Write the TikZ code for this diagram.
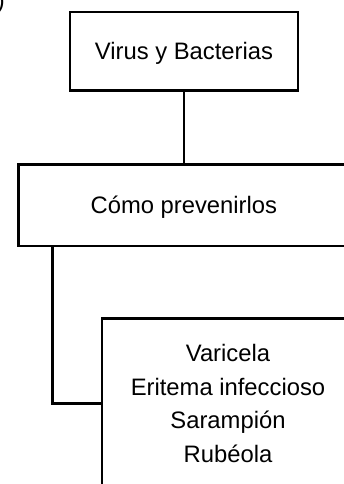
\documentclass[tikz,border=0pt]{standalone}
\usepackage{fontspec}
\setmainfont{Liberation Sans}
\begin{document}
\begin{tikzpicture}[x=1pt,y=-1pt,
  boxline/.style={draw=black, line width=2.7pt},
  boxnode/.style={boxline, rectangle, inner sep=0pt, outer sep=0pt},
  labeltext/.style={font=\fontsize{23.8}{33.7}\selectfont, text height=17.04pt, text depth=0pt, inner sep=0pt},
  conn/.style={draw=black, line width=2.7pt}
]
\useasboundingbox (0,0) rectangle (343,484);
\fill[white] (0,0) rectangle (343,484);

% partial glyph at the top-left corner
\node[anchor=base west, inner sep=0pt, font=\fontsize{23.8}{27}\selectfont] (frag) at (-3.4,9) {)};

\node[boxnode, minimum width=228pt, minimum height=78.7pt, labeltext] (b1) at (184,51.35) {Virus y Bacterias};
\node[boxnode, minimum width=330.3pt, minimum height=81.3pt, labeltext] (b2) at (183.85,205.35) {Cómo prevenirlos};
\node[boxnode, minimum width=252pt, minimum height=191.3pt] (b3) at (228,414.35) {};
\node[anchor=north, align=center, inner sep=0pt, font=\fontsize{23.8}{33.7}\selectfont] (t3) at (228,344)
  {Varicela\\Eritema infeccioso\\Sarampión\\Rubéola};

\draw[conn] (b1.south) -- (b1.south |- b2.north);
\coordinate (j) at (52.3,403.5);
\draw[conn] (j |- b2.south) -- (j) -- (j -| b3.west);
\end{tikzpicture}
\end{document}
